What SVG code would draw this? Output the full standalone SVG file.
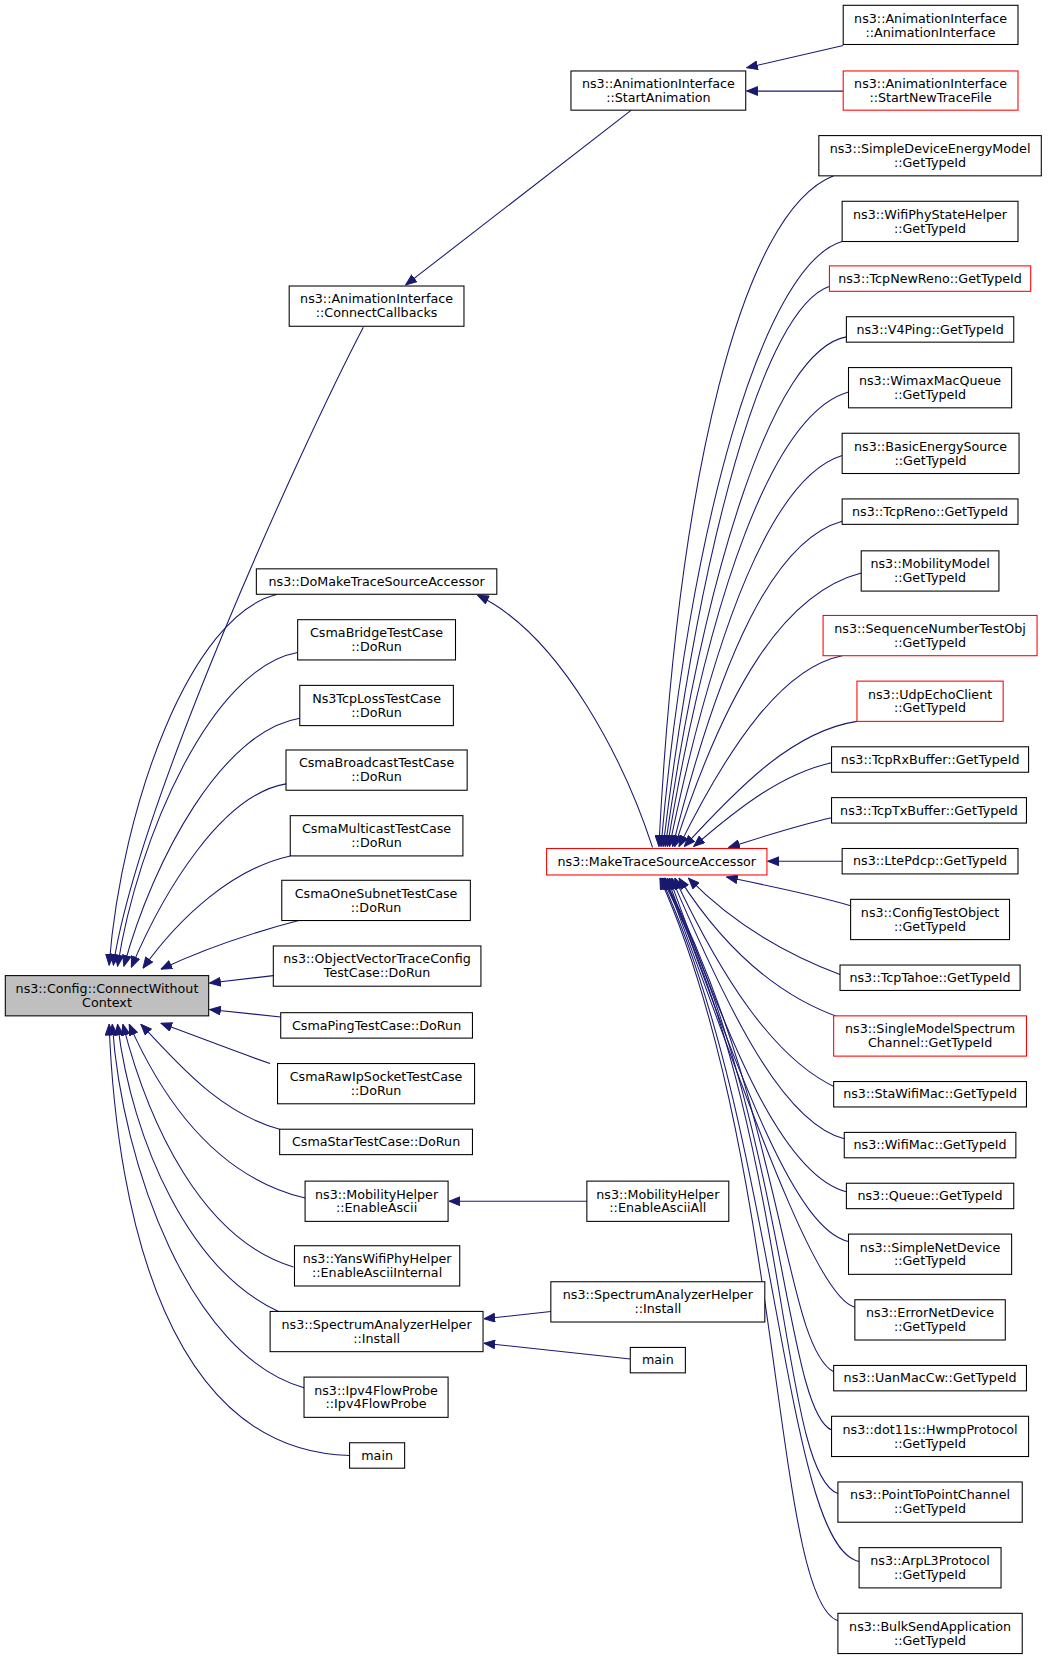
<svg xmlns="http://www.w3.org/2000/svg" width="1048" height="1661" viewBox="0 0 1048 1661">
<style>
.n rect{fill:#fff;stroke:#000;stroke-width:1}
.n.r rect{stroke:#ff0000}
.n.g rect{fill:#bfbfbf}
text{font-family:"DejaVu Sans","Liberation Sans",sans-serif;font-size:12px;text-anchor:middle;fill:#000}
.e path{fill:none;stroke:#191970;stroke-width:1;marker-end:url(#a)}
</style>
<defs>
<marker id="a" markerWidth="11" markerHeight="9" refX="10.5" refY="4.5" orient="auto" markerUnits="userSpaceOnUse"><path d="M0.5,0.5 L10.5,4.5 L0.5,8.5 Z" fill="#191970" stroke="#191970" stroke-width="1"/></marker>
</defs>
<rect width="1048" height="1661" fill="#fff"/>
<g transform="scale(1.0593)">
<g id="edges" class="e">
<path d="M343,309 C285,420 130,760 107,911"/>
<path d="M262,561 C180,580 115,760 103,911"/>
<path d="M281,616 C200,630 130,790 111,912"/>
<path d="M283,678 C210,690 145,810 117,912"/>
<path d="M270,740 C210,750 155,840 124,913"/>
<path d="M274,808 C220,820 170,865 135,914"/>
<path d="M282,869 C240,880 190,897 152,915"/>
<path d="M258,921 L198,928"/>
<path d="M265,960 L198,953"/>
<path d="M255,1004 C220,992 185,978 152,966"/>
<path d="M264,1066 C205,1050 165,1000 133,967"/>
<path d="M288,1131 C200,1110 150,1030 122,967"/>
<path d="M277,1196 C190,1170 140,1060 116,967"/>
<path d="M263,1238 C180,1200 125,1080 111,967"/>
<path d="M287,1310 C180,1280 115,1100 106,967"/>
<path d="M330,1374 C160,1370 110,1150 103,967"/>
<path d="M554,1134 L424,1134"/>
<path d="M520,1238 L457,1245"/>
<path d="M595,1283 L457,1268"/>
<path d="M596,104 L383,269"/>
<path d="M796,43 L705,64"/>
<path d="M796,86 L705,86"/>
<path d="M616,800 C590,720 530,600 451,562"/>
<path d="M787,166 C700,200 640,450 622,799"/>
<path d="M795,228 C720,250 650,500 624,799"/>
<path d="M784,270 C720,290 660,520 626,799"/>
<path d="M799,318 C730,330 665,540 628,799"/>
<path d="M801,370 C730,390 670,560 630,799"/>
<path d="M795,430 C730,450 675,590 632,799"/>
<path d="M795,492 C730,510 680,620 635,799"/>
<path d="M813,541 C740,560 685,650 637,799"/>
<path d="M795,619 C740,630 690,700 641,799"/>
<path d="M809,681 C750,690 700,740 646,799"/>
<path d="M785,720 C740,730 700,760 655,799"/>
<path d="M785,772 C750,780 720,790 688,800"/>
<path d="M795,813 L725,813"/>
<path d="M803,855 C770,845 730,837 686,828"/>
<path d="M793,920 C740,900 690,870 650,829"/>
<path d="M797,962 C730,940 680,890 641,829"/>
<path d="M790,1027 C730,1000 680,920 637,829"/>
<path d="M797,1075 C740,1060 690,960 634,829"/>
<path d="M799,1125 C740,1110 690,990 632,829"/>
<path d="M801,1172 C750,1160 700,1020 630,829"/>
<path d="M807,1234 C770,1225 710,1050 628,829"/>
<path d="M787,1295 C740,1270 740,1050 627,829"/>
<path d="M785,1350 C740,1330 740,1050 626,829"/>
<path d="M791,1410 C735,1390 745,1060 625,829"/>
<path d="M811,1474 C740,1460 735,1070 624,829"/>
<path d="M791,1530 C730,1510 740,1090 623,829"/>
</g>
<g id="n_cwc" class="n g"><rect x="5" y="921" width="192" height="38"/><text x="101" y="937.5">ns3::Config::ConnectWithout</text><text x="101" y="950.5">Context</text></g>
<g id="n_cc" class="n"><rect x="273" y="270" width="165" height="38"/><text x="355.5" y="286.5">ns3::AnimationInterface</text><text x="355.5" y="299.5">::ConnectCallbacks</text></g>
<g id="n_sa" class="n"><rect x="539" y="67" width="165" height="37"/><text x="621.5" y="83.5">ns3::AnimationInterface</text><text x="621.5" y="96.5">::StartAnimation</text></g>
<g id="n_ai" class="n"><rect x="796" y="5" width="165" height="37"/><text x="878.5" y="21.5">ns3::AnimationInterface</text><text x="878.5" y="34.5">::AnimationInterface</text></g>
<g id="n_sntf" class="n r"><rect x="796" y="67" width="165" height="37"/><text x="878.5" y="83.5">ns3::AnimationInterface</text><text x="878.5" y="96.5">::StartNewTraceFile</text></g>
<g id="n_dmtsa" class="n"><rect x="242" y="537" width="227" height="24"/><text x="355.5" y="553">ns3::DoMakeTraceSourceAccessor</text></g>
<g id="n_bridge" class="n"><rect x="281" y="585" width="149" height="38"/><text x="355.5" y="601.5">CsmaBridgeTestCase</text><text x="355.5" y="614.5">::DoRun</text></g>
<g id="n_tcploss" class="n"><rect x="283" y="647" width="145" height="38"/><text x="355.5" y="663.5">Ns3TcpLossTestCase</text><text x="355.5" y="676.5">::DoRun</text></g>
<g id="n_bcast" class="n"><rect x="270" y="708" width="171" height="38"/><text x="355.5" y="724.5">CsmaBroadcastTestCase</text><text x="355.5" y="737.5">::DoRun</text></g>
<g id="n_mcast" class="n"><rect x="274" y="770" width="163" height="38"/><text x="355.5" y="786.5">CsmaMulticastTestCase</text><text x="355.5" y="799.5">::DoRun</text></g>
<g id="n_onesub" class="n"><rect x="266" y="831" width="178" height="38"/><text x="355" y="847.5">CsmaOneSubnetTestCase</text><text x="355" y="860.5">::DoRun</text></g>
<g id="n_ovtc" class="n"><rect x="258" y="893" width="196" height="38"/><text x="356" y="909.5">ns3::ObjectVectorTraceConfig</text><text x="356" y="922.5">TestCase::DoRun</text></g>
<g id="n_ping" class="n"><rect x="265" y="956" width="181" height="24"/><text x="355.5" y="972">CsmaPingTestCase::DoRun</text></g>
<g id="n_rawip" class="n"><rect x="262" y="1004" width="186" height="38"/><text x="355" y="1020.5">CsmaRawIpSocketTestCase</text><text x="355" y="1033.5">::DoRun</text></g>
<g id="n_star" class="n"><rect x="264" y="1066" width="182" height="24"/><text x="355" y="1082">CsmaStarTestCase::DoRun</text></g>
<g id="n_mhea" class="n"><rect x="288" y="1115" width="135" height="38"/><text x="355.5" y="1131.5">ns3::MobilityHelper</text><text x="355.5" y="1144.5">::EnableAscii</text></g>
<g id="n_mheaa" class="n"><rect x="554" y="1115" width="134" height="38"/><text x="621" y="1131.5">ns3::MobilityHelper</text><text x="621" y="1144.5">::EnableAsciiAll</text></g>
<g id="n_yans" class="n"><rect x="278" y="1176" width="156" height="38"/><text x="356" y="1192.5">ns3::YansWifiPhyHelper</text><text x="356" y="1205.5">::EnableAsciiInternal</text></g>
<g id="n_sah" class="n"><rect x="255" y="1238" width="201" height="38"/><text x="355.5" y="1254.5">ns3::SpectrumAnalyzerHelper</text><text x="355.5" y="1267.5">::Install</text></g>
<g id="n_sah2" class="n"><rect x="520" y="1210" width="202" height="38"/><text x="621" y="1226.5">ns3::SpectrumAnalyzerHelper</text><text x="621" y="1239.5">::Install</text></g>
<g id="n_main2" class="n"><rect x="595" y="1272" width="52" height="24"/><text x="621" y="1288">main</text></g>
<g id="n_ipv4" class="n"><rect x="287" y="1300" width="136" height="38"/><text x="355" y="1316.5">ns3::Ipv4FlowProbe</text><text x="355" y="1329.5">::Ipv4FlowProbe</text></g>
<g id="n_main" class="n"><rect x="330" y="1362" width="52" height="24"/><text x="356" y="1378">main</text></g>
<g id="n_mtsa" class="n r"><rect x="516" y="801" width="208" height="25"/><text x="620" y="817.5">ns3::MakeTraceSourceAccessor</text></g>
<g id="n_sdem" class="n"><rect x="773" y="128" width="210" height="38"/><text x="878" y="144.5">ns3::SimpleDeviceEnergyModel</text><text x="878" y="157.5">::GetTypeId</text></g>
<g id="n_wpsh" class="n"><rect x="795" y="190" width="166" height="38"/><text x="878" y="206.5">ns3::WifiPhyStateHelper</text><text x="878" y="219.5">::GetTypeId</text></g>
<g id="n_tnr" class="n r"><rect x="783" y="251" width="190" height="24"/><text x="878" y="267">ns3::TcpNewReno::GetTypeId</text></g>
<g id="n_v4p" class="n"><rect x="799" y="299" width="158" height="24"/><text x="878" y="315">ns3::V4Ping::GetTypeId</text></g>
<g id="n_wmq" class="n"><rect x="801" y="347" width="154" height="38"/><text x="878" y="363.5">ns3::WimaxMacQueue</text><text x="878" y="376.5">::GetTypeId</text></g>
<g id="n_bes" class="n"><rect x="795" y="409" width="167" height="38"/><text x="878.5" y="425.5">ns3::BasicEnergySource</text><text x="878.5" y="438.5">::GetTypeId</text></g>
<g id="n_treno" class="n"><rect x="795" y="471" width="166" height="24"/><text x="878" y="487">ns3::TcpReno::GetTypeId</text></g>
<g id="n_mm" class="n"><rect x="813" y="520" width="130" height="38"/><text x="878" y="536.5">ns3::MobilityModel</text><text x="878" y="549.5">::GetTypeId</text></g>
<g id="n_sno" class="n r"><rect x="777" y="581" width="202" height="38"/><text x="878" y="597.5">ns3::SequenceNumberTestObj</text><text x="878" y="610.5">::GetTypeId</text></g>
<g id="n_uec" class="n r"><rect x="809" y="643" width="138" height="38"/><text x="878" y="659.5">ns3::UdpEchoClient</text><text x="878" y="672.5">::GetTypeId</text></g>
<g id="n_trx" class="n"><rect x="785" y="705" width="186" height="24"/><text x="878" y="721">ns3::TcpRxBuffer::GetTypeId</text></g>
<g id="n_ttx" class="n"><rect x="785" y="753" width="184" height="24"/><text x="877" y="769">ns3::TcpTxBuffer::GetTypeId</text></g>
<g id="n_lte" class="n"><rect x="795" y="801" width="166" height="24"/><text x="878" y="817">ns3::LtePdcp::GetTypeId</text></g>
<g id="n_cto" class="n"><rect x="803" y="849" width="150" height="38"/><text x="878" y="865.5">ns3::ConfigTestObject</text><text x="878" y="878.5">::GetTypeId</text></g>
<g id="n_tahoe" class="n"><rect x="793" y="911" width="170" height="24"/><text x="878" y="927">ns3::TcpTahoe::GetTypeId</text></g>
<g id="n_smsc" class="n r"><rect x="787" y="959" width="182" height="38"/><text x="878" y="975.5">ns3::SingleModelSpectrum</text><text x="878" y="988.5">Channel::GetTypeId</text></g>
<g id="n_sta" class="n"><rect x="787" y="1021" width="182" height="24"/><text x="878" y="1037">ns3::StaWifiMac::GetTypeId</text></g>
<g id="n_wmac" class="n"><rect x="797" y="1069" width="162" height="24"/><text x="878" y="1085">ns3::WifiMac::GetTypeId</text></g>
<g id="n_queue" class="n"><rect x="799" y="1117" width="158" height="24"/><text x="878" y="1133">ns3::Queue::GetTypeId</text></g>
<g id="n_snd" class="n"><rect x="801" y="1165" width="154" height="38"/><text x="878" y="1181.5">ns3::SimpleNetDevice</text><text x="878" y="1194.5">::GetTypeId</text></g>
<g id="n_end" class="n"><rect x="807" y="1227" width="142" height="38"/><text x="878" y="1243.5">ns3::ErrorNetDevice</text><text x="878" y="1256.5">::GetTypeId</text></g>
<g id="n_uan" class="n"><rect x="787" y="1289" width="182" height="24"/><text x="878" y="1305">ns3::UanMacCw::GetTypeId</text></g>
<g id="n_hwmp" class="n"><rect x="785" y="1337" width="186" height="38"/><text x="878" y="1353.5">ns3::dot11s::HwmpProtocol</text><text x="878" y="1366.5">::GetTypeId</text></g>
<g id="n_p2p" class="n"><rect x="791" y="1399" width="174" height="38"/><text x="878" y="1415.5">ns3::PointToPointChannel</text><text x="878" y="1428.5">::GetTypeId</text></g>
<g id="n_arp" class="n"><rect x="811" y="1461" width="134" height="38"/><text x="878" y="1477.5">ns3::ArpL3Protocol</text><text x="878" y="1490.5">::GetTypeId</text></g>
<g id="n_bulk" class="n"><rect x="791" y="1523" width="174" height="38"/><text x="878" y="1539.5">ns3::BulkSendApplication</text><text x="878" y="1552.5">::GetTypeId</text></g>
</g>
</svg>
